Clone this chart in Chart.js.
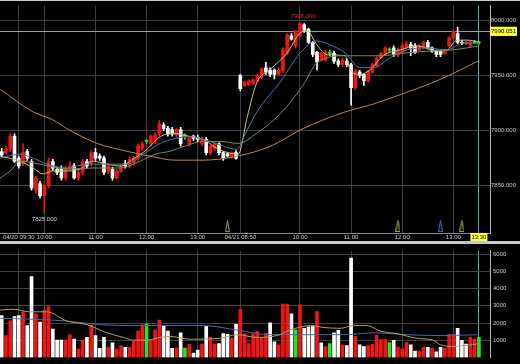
<!DOCTYPE html>
<html>
<head>
<meta charset="utf-8">
<script src="https://cdn.jsdelivr.net/npm/chart.js@4.4.0/dist/chart.umd.min.js"></script>
<style>
html, body { margin: 0; padding: 0; background: #c8c8c8; width: 520px; height: 364px; overflow: hidden; }
canvas { position: absolute; left: 0; background: #000; }
#kline { top: 1px; }
#vol { top: 244px; }
</style>
</head>
<body>
<canvas id="kline" width="520" height="240"></canvas>
<canvas id="vol" width="520" height="120"></canvas>
<script>
// x axis: one slot per 5 minute bar
const tickPos = [4, 10, 22, 34, 46, 56, 70, 82, 94, 106, 112];
const tickText = ['04/20 09:30', '10:00', '11:00', '12:00', '13:00', '04/21 08:50', '10:00', '11:00', '12:00', '13:00', '13:30'];
const priceTicks = [7850, 7900, 7950, 8000];
const lastPrice = 7990.051;
const volTicks = [1000, 2000, 3000, 4000, 5000, 6000];

const openP = [7881,7880,7883,7895,7875,7870,7881,7872,7846,7852, 7841,7850,7872,7865,7866,7857,7865,7868,7857,7862,
  7872,7870,7880,7877,7875,7863,7865,7857,7863,7870, 7868,7871,7875,7884,7890,7888,7890,7897,7905,7902,
  7901,7896,7901,7895,7888,7895,7894,7888,7892,7880, 7884,7888,7880,7879,7876,7880,
  7950,7941,7942,7943, 7945,7948,7957,7955,7955,7951,7954,7970,7986,7977, 7986,7996,7992,7980,7971,7964,7964,7970,7970,7963,
  7960,7963,7960,7939,7953,7951,7945,7953,7959,7966, 7969,7973,7975,7969,7971,7976,7978,7977,7973,7975,
  7980,7975,7972,7972,7970,7977,7984,7988,7980,7979, 7977,7980,7979.5];
const closeP = [7878,7883,7895,7872,7868,7880,7875,7848,7857,7841, 7850,7872,7866,7862,7857,7866,7868,7857,7862,7872,
  7868,7880,7875,7875,7862,7868,7857,7863,7868,7868, 7874,7875,7886,7888,7890,7895,7896,7906,7902,7897,
  7897,7901,7888,7895,7893,7893,7892,7892,7880,7886, 7888,7880,7875,7877,7880,7875,
  7938,7944,7945,7946, 7950,7956,7953,7951,7951,7955,7973,7987,7983,7990, 7997,7991,7980,7969,7962,7970,7971,7970,7963,7960,
  7964,7960,7939,7954,7950,7945,7954,7960,7966,7970, 7975,7973,7969,7973,7977,7979,7975,7971,7977,7980,
  7975,7972,7969,7969,7973,7984,7990,7980,7979,7980, 7980,7980,7979.5];
const highP = [7884,7886,7897,7897,7877,7888,7883,7874,7859,7854, 7852,7875,7874,7867,7868,7868,7872,7870,7864,7874,
  7874,7882,7884,7879,7877,7870,7867,7865,7869,7873, 7876,7877,7888,7890,7892,7896,7898,7909,7907,7904,
  7903,7902,7903,7897,7895,7896,7896,7894,7894,7887, 7889,7889,7881,7880,7881,7882,
  7951,7945,7946,7947, 7951,7957,7962,7957,7956,7957,7975,7988,7988,7991, 7998,7997,7993,7981,7972,7971,7973,7973,7972,7965,
  7966,7965,7961,7956,7955,7952,7955,7961,7967,7971, 7976,7975,7977,7975,7979,7981,7980,7979,7978,7981,
  7982,7976,7973,7973,7974,7985,7991,7994,7982,7981, 7981,7982,7981];
const lowP = [7877,7879,7881,7871,7866,7868,7873,7846,7843,7839, 7825,7848,7864,7860,7855,7855,7864,7856,7855,7860,
  7866,7868,7873,7873,7860,7861,7855,7856,7862,7866, 7866,7869,7873,7882,7888,7886,7888,7895,7900,7895,
  7895,7894,7886,7892,7886,7891,7890,7886,7878,7878, 7882,7878,7873,7876,7875,7874,
  7936,7940,7941,7942, 7944,7947,7951,7949,7947,7950,7953,7969,7982,7975, 7985,7989,7979,7967,7955,7963,7963,7968,7961,7958,
  7958,7958,7923,7937,7948,7941,7944,7952,7958,7965, 7968,7971,7967,7967,7970,7975,7968,7970,7972,7974,
  7974,7971,7967,7967,7969,7976,7983,7979,7978,7978, 7976,7979,7978];

const volume = [2430,1270,2120,2380,2430,2650,1850,4700,2540,2060, 2750,2960,1640,1000,1000,1000,1320,1060,480,1000,
  1160,1900,1270,530,1160,580,850,480,690,580, 580,950,1530,1900,1950,1000,1590,2170,1850,1530,
  530,545,1430,545,760,250,420,760,1800,1160, 790,810,1380,1340,1130,1920,
  2790,1390,810,1390, 1520,1160,1390,2010,900,725,3100,3100,2540,1600, 3050,1690,1780,1820,2660,850,635,810,1430,1570,
  725,690,5780,1220,725,635,690,760,1300,1040, 1040,860,990,600,490,860,725,370,370,580,
  580,545,330,580,545,1340,1340,1690,990,780, 1160,1070,1160];
const volType = ['w','r','r','w','w','r','w','w','r','w', 'r','r','w','w','w','r','r','w','r','r',
  'w','r','w','w','w','r','w','r','r','w', 'r','r','r','r','g','r','r','r','w','w',
  'w','r','w','g','r','w','w','r','w','r', 'r','w','w','w','r','w',
  'r','r','r','r', 'r','r','r','w','w','r','r','r','w','g', 'r','w','w','w','r','w','r','g','w','w',
  'r','w','w','r','w','w','r','r','r','r', 'r','g','w','r','r','r','w','w','r','r',
  'w','r','w','w','r','r','r','w','w','w', 'r','r','g'];

// moving averages: [bar, value]
const maShort = [[-0.4,7876.8],[4.3,7872.3],[7.4,7866.1],[9.7,7860.7],[12,7863.4],[15.3,7863.4],[18.4,7865.2],[21.4,7872.3],
  [24.7,7869.6],[27.8,7867.9],[30.8,7874.1],[34.1,7883],[37.2,7894.6],[40.7,7897.3],[44.2,7894.6],[47.3,7892],[50.5,7883.9],
  [53.6,7879.5],[55.5,7878.6],[57.6,7912],[59.9,7943.8],[63,7955.4],[67,7970.5],[70,7988.4],[71.7,7990.2],[74,7977.7],
  [76.4,7968.8],[80.6,7967.9],[81.8,7955.4],[84.1,7950.9],[86.5,7955.4],[89.5,7967.9],[93.5,7973.2],[97.5,7976.8],
  [102.2,7972.3],[104.5,7973.2],[106.9,7982.1],[109.3,7982.1],[112,7980.4]];
const maMid = [[-0.4,7875],[4.3,7878.6],[7.4,7875],[10.6,7869.6],[15.3,7866.1],[20,7869.6],[24.7,7869.6],[29.4,7869.6],
  [33.2,7878.6],[37.2,7888.4],[40.7,7892.9],[44.2,7894.6],[48.9,7890.2],[55.2,7883],[57.1,7896.4],[59.9,7917],[65.3,7943.8],
  [70.7,7973.2],[74,7981.3],[77.1,7977.7],[80.6,7970.5],[84.1,7957.1],[87.2,7957.1],[91.2,7966.1],[95.1,7973.2],
  [99.8,7975],[104.5,7973.2],[108.3,7979.5],[112,7978.6]];
const maLong = [[-0.4,7857.1],[2,7863.4],[4.3,7872.3],[9,7869.6],[15.3,7865.2],[21.4,7866.1],[27.8,7866.1],[32.5,7872.3],
  [36,7878.6],[39.5,7881.3],[43,7886],[47.3,7890.2],[51.2,7890.2],[55.5,7888.4],[60,7898],[65.3,7915],[70.7,7941.1],
  [74,7961.6],[80.6,7967.9],[84.1,7967.9],[88.8,7967.9],[95.1,7970.5],[101.2,7972.3],[105.9,7973.2],[112,7976.8]];
const maTrend = [[-0.4,7937.5],[7.35,7917],[12,7909.8],[15.3,7901.8],[22.4,7888.4],[29.4,7881.3],[34.8,7876.8],[40.7,7873.2],
  [47.3,7873.2],[55.2,7876.8],[63,7885.7],[70.7,7901.8],[80.6,7917],[87.2,7924.1],[95.1,7934.8],[102.9,7946.4],[112,7963.4]];
const volMaA = [[-0.4,2750],[2.65,2800],[6.64,2650],[10.6,2650],[15.3,2115],[20,1905],[24.7,1430],[28.5,1165],[30.8,1005],
  [34.1,1005],[37.2,1165],[39.5,1215],[44.2,1060],[51.2,1110],[55.2,1320],[59.9,1165],[64.6,1270],[67.7,1590],[72.4,1850],
  [75.4,1745],[79.4,1690],[82.5,1850],[85.7,1850],[88.8,1535],[92.8,1375],[97.5,1110],[101.2,1005],[102.9,740],[105.9,635],[112,795]];
const volMaB = [[-0.4,2275],[7.35,2220],[15.3,2115],[23.1,1905],[30.8,1850],[40.7,1850],[47.3,1850],[55.2,1590],[63,1320],
  [70.7,1320],[80.6,1320],[87.2,1430],[95.1,1320],[102.9,1270],[112,1320]];

// signal markers under the candles
const signalIdx = [53, 93, 103, 108];
const signalLevel = 7813.4;
const signalColor = ['#9a9a7c', '#b4b46e', '#4a6ec4', '#b4b46e'];

const FONT = { family: 'Liberation Sans', size: 6 };
const GRID = '#3f3f3f';
const colorOf = t => t === 'r' ? '#f01414' : t === 'g' ? '#22e622' : '#ffffff';
const candleType = openP.map((o, i) => closeP[i] > o ? 'r' : closeP[i] < o ? 'w' : 'g');
const pts = arr => arr.map(p => ({ x: p[0], y: p[1] }));

function triangleImg(color) {
    const c = document.createElement('canvas');
    c.width = 5; c.height = 12;
    const g = c.getContext('2d');
    g.strokeStyle = color;
    g.lineWidth = 1;
    g.beginPath();
    g.moveTo(2.5, 0.5); g.lineTo(0.5, 11.5); g.lineTo(4.5, 11.5); g.closePath();
    g.stroke();
    return c;
}
const signalImg = signalColor.map(triangleImg);

const hiLoLabels = {
    id: 'hiLo',
    afterDatasetsDraw(chart) {
        const { ctx, scales: { x, y } } = chart;
        const hi = Math.max(...highP), lo = Math.min(...lowP);
        const hiI = highP.indexOf(hi), loI = lowP.indexOf(lo);
        ctx.save();
        ctx.font = '6px "Liberation Sans"';
        ctx.textAlign = 'center';
        ctx.textBaseline = 'middle';
        ctx.fillStyle = '#d42a2a';
        ctx.fillText(hi.toFixed(3), x.getPixelForValue(hiI) + 3, y.getPixelForValue(hi) - 6);
        ctx.fillStyle = '#d8d8d8';
        ctx.fillText(lo.toFixed(3), x.getPixelForValue(loI), y.getPixelForValue(lo) + 6);
        ctx.restore();
    }
};

const xBase = {
    type: 'linear', min: -0.4, max: 114.6, offset: false,
    afterBuildTicks: s => { s.ticks = tickPos.map(v => ({ value: v })); },
    grid: { color: c => c.tick && c.tick.value === 112 ? '#6aa8a8' : GRID, drawTicks: false, offset: false }
};
const lineDs = (data, color) => ({
    type: 'line', data: pts(data), borderColor: color, borderWidth: 1,
    pointRadius: 0, cubicInterpolationMode: 'monotone', order: 0
});

new Chart(document.getElementById('kline'), {
    type: 'bar',
    data: {
        datasets: [
            lineDs(maTrend, '#b8845a'),
            lineDs(maLong, '#6f8c5c'),
            lineDs(maMid, '#4f74ac'),
            lineDs(maShort, '#c4c47c'),
            {
                type: 'line', showLine: false, order: 0,
                data: signalIdx.map(i => ({ x: i, y: signalLevel })),
                pointRadius: 3, pointStyle: c => signalImg[c.dataIndex]
            },
            {
                type: 'bar', order: 1, grouped: false, barThickness: 3, minBarLength: 1, borderWidth: 0,
                data: openP.map((o, i) => ({ x: i, y: [o, closeP[i]] })),
                backgroundColor: candleType.map(colorOf)
            },
            {
                type: 'bar', order: 2, grouped: false, barThickness: 1, borderWidth: 0,
                data: lowP.map((l, i) => ({ x: i, y: [l, highP[i]] })),
                backgroundColor: candleType.map(colorOf)
            }
        ]
    },
    options: {
        responsive: false, animation: false, devicePixelRatio: 1,
        layout: { padding: { top: 1 }, autoPadding: false },
        plugins: { legend: { display: false }, tooltip: { enabled: false } },
        scales: {
            x: {
                ...xBase,
                afterFit: s => { s.height = 8; },
                border: { color: '#8a8a8a' },
                ticks: {
                    autoSkip: false, maxRotation: 0, padding: 1, font: FONT,
                    color: c => c.tick.value === 112 ? '#000' : '#c8c8c8',
                    showLabelBackdrop: c => c.tick.value === 112,
                    backdropColor: '#ffff3c', backdropPadding: 1,
                    callback: v => tickText[tickPos.indexOf(v)]
                }
            },
            y: {
                position: 'right', min: 7807.14, max: 8013.39, beginAtZero: false,
                afterBuildTicks: s => { s.ticks = priceTicks.concat([lastPrice]).map(v => ({ value: v })); },
                afterFit: s => { s.width = 30; },
                border: { color: '#b4b4b4' },
                grid: { color: c => c.tick && c.tick.value === lastPrice ? '#8d9ca6' : GRID, drawTicks: false },
                ticks: {
                    autoSkip: false, padding: 1, font: FONT,
                    color: c => c.tick.value === lastPrice ? '#000' : '#c8c8c8',
                    showLabelBackdrop: c => c.tick.value === lastPrice,
                    backdropColor: '#ffff3c', backdropPadding: 1,
                    callback: v => v.toFixed(3)
                }
            }
        }
    },
    plugins: [hiLoLabels]
});

new Chart(document.getElementById('vol'), {
    type: 'bar',
    data: {
        datasets: [
            lineDs(volMaA, '#a8a264'),
            lineDs(volMaB, '#4a68a4'),
            {
                type: 'bar', order: 1, grouped: false, barThickness: 3, borderWidth: 0,
                data: volume.map((v, i) => ({ x: i, y: v })),
                backgroundColor: volType.map(colorOf)
            }
        ]
    },
    options: {
        responsive: false, animation: false, devicePixelRatio: 1,
        layout: { padding: 0, autoPadding: false },
        plugins: { legend: { display: false }, tooltip: { enabled: false } },
        scales: {
            x: {
                ...xBase,
                afterFit: s => { s.height = 2; },
                border: { display: false },
                ticks: { display: false }
            },
            y: {
                position: 'right', min: 0, max: 6210,
                afterBuildTicks: s => { s.ticks = volTicks.map(v => ({ value: v })); },
                afterFit: s => { s.width = 30; },
                border: { color: '#b4b4b4' },
                grid: { color: GRID, drawTicks: false },
                ticks: { autoSkip: false, padding: 3, font: FONT, color: '#c8c8c8', callback: v => String(v) }
            }
        }
    }
});
</script>
</body>
</html>
